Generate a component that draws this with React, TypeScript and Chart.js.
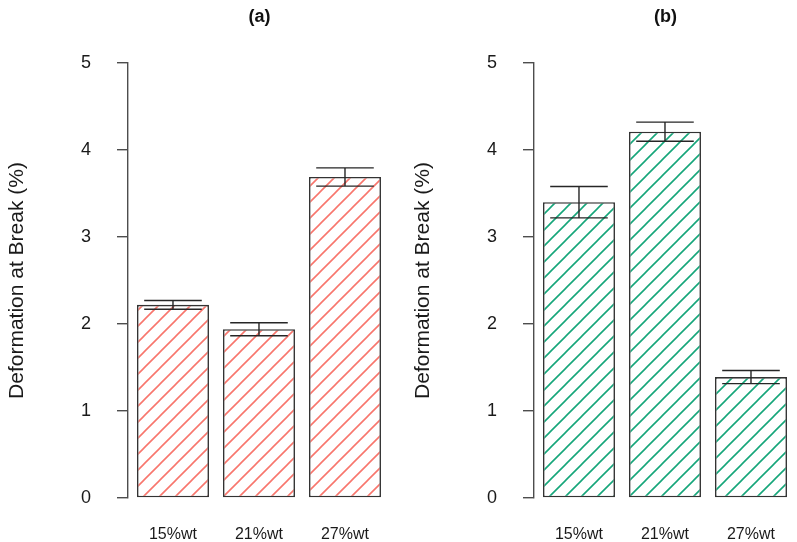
import React, { useEffect, useRef } from 'react';
import { Chart, registerables } from 'chart.js';

Chart.register(...registerables);

// ---- Data ----
const categories = ['15%wt', '21%wt', '27%wt'];
const xPositions = [0, 1, 2];
const valuesA = [2.22, 1.94, 3.69];
const errorsA = [0.05, 0.075, 0.105];
const valuesB = [3.4, 4.21, 1.39];
const errorsB = [0.18, 0.11, 0.075];
const titleA = '(a)';
const titleB = '(b)';
const yAxisTitle = 'Deformation at Break (%)';
const yMin = 0;
const yMax = 5;
const yStep = 1;

const FONT = "'Liberation Sans', Arial, Helvetica, sans-serif";

function makeHatch(color: string): CanvasPattern | string {
  const size = 16;
  const c = document.createElement('canvas');
  c.width = size;
  c.height = size;
  const ctx = c.getContext('2d');
  if (!ctx) return color;
  ctx.fillStyle = '#ffffff';
  ctx.fillRect(0, 0, size, size);
  ctx.strokeStyle = color;
  ctx.lineWidth = 1.6;
  ctx.beginPath();
  ctx.moveTo(-2, size + 2);
  ctx.lineTo(size + 2, -2);
  ctx.moveTo(-4, 4);
  ctx.lineTo(4, -4);
  ctx.moveTo(size - 4, size + 4);
  ctx.lineTo(size + 4, size - 4);
  ctx.stroke();
  const p = ctx.createPattern(c, 'repeat');
  return p || color;
}

const errorBarPlugin = {
  id: 'errorBars',
  afterDatasetsDraw(chart: any, _args: any, opts: any) {
    const errs: number[] = opts.errors || [];
    const vals: any[] = chart.data.datasets[0].data;
    const meta = chart.getDatasetMeta(0);
    const yScale = chart.scales.y;
    const ctx = chart.ctx;
    ctx.save();
    ctx.strokeStyle = '#262626';
    ctx.lineWidth = 1.4;
    meta.data.forEach((bar: any, i: number) => {
      const v = vals[i].y;
      const e = errs[i];
      const x = bar.x;
      const half = (bar.width * 0.8) / 2;
      const yHi = yScale.getPixelForValue(v + e);
      const yLo = yScale.getPixelForValue(v - e);
      ctx.beginPath();
      ctx.moveTo(x, yHi);
      ctx.lineTo(x, yLo);
      ctx.moveTo(x - half, yHi);
      ctx.lineTo(x + half, yHi);
      ctx.moveTo(x - half, yLo);
      ctx.lineTo(x + half, yLo);
      ctx.stroke();
    });
    ctx.restore();
  },
};

function Panel(props: { title: string; values: number[]; errors: number[]; color: string; left: number }) {
  const ref = useRef<HTMLCanvasElement | null>(null);
  useEffect(() => {
    if (!ref.current) return;
    const chart = new Chart(ref.current, {
      type: 'bar',
      data: {
        datasets: [
          {
            data: xPositions.map((x, i) => ({ x, y: props.values[i] })),
            backgroundColor: makeHatch(props.color) as any,
            borderColor: '#333333',
            borderWidth: 1.6,
            borderSkipped: false,
            barPercentage: 0.837,
            categoryPercentage: 1,
          },
        ],
      },
      options: {
        responsive: false,
        animation: false,
        events: [],
        layout: { padding: 0 },
        plugins: {
          legend: { display: false },
          tooltip: { enabled: false },
          title: {
            display: true,
            text: props.title,
            fullSize: false,
            color: '#111',
            font: { family: FONT, size: 18, weight: 'bold' },
            padding: { top: 6, bottom: 35.4 },
          },
          errorBars: { errors: props.errors },
        } as any,
        scales: {
          x: {
            type: 'linear',
            offset: false,
            min: -0.523,
            max: 2.535,
            grid: { display: false },
            border: { display: false },
            afterBuildTicks: (s: any) => {
              s.ticks = xPositions.map((v) => ({ value: v }));
            },
            afterFit: (s: any) => {
              s.height = 44;
            },
            ticks: {
              autoSkip: false,
              maxRotation: 0,
              padding: 19,
              color: '#1a1a1a',
              font: { family: FONT, size: 16 },
              callback: (v: any) => categories[Number(v)] ?? '',
            },
          },
          y: {
            min: yMin,
            max: yMax,
            afterFit: (s: any) => {
              s.width = 128;
            },
            ticks: {
              stepSize: yStep,
              padding: 26,
              color: '#1a1a1a',
              font: { family: FONT, size: 18 },
            },
            grid: {
              drawOnChartArea: false,
              drawTicks: true,
              tickLength: 11,
              color: '#4d4d4d',
              lineWidth: 1.4,
            },
            border: { display: true, color: '#4d4d4d', width: 1.4 },
            title: {
              display: true,
              text: yAxisTitle,
              color: '#1a1a1a',
              font: { family: FONT, size: 21 },
              padding: { top: 5, bottom: 0 },
            },
          },
        },
      } as any,
      plugins: [errorBarPlugin as any],
    });
    return () => chart.destroy();
  }, []);
  return (
    <canvas
      ref={ref}
      width={391}
      height={542}
      style={{ position: 'absolute', left: props.left, top: 0, width: 391, height: 542 }}
    />
  );
}

export default function App() {
  return (
    <div style={{ position: 'fixed', left: 0, top: 0, width: 797, height: 542, background: '#fff', overflow: 'hidden' }}>
      <Panel title={titleA} values={valuesA} errors={errorsA} color="#F8766D" left={0} />
      <Panel title={titleB} values={valuesB} errors={errorsB} color="#16A67A" left={406} />
    </div>
  );
}
